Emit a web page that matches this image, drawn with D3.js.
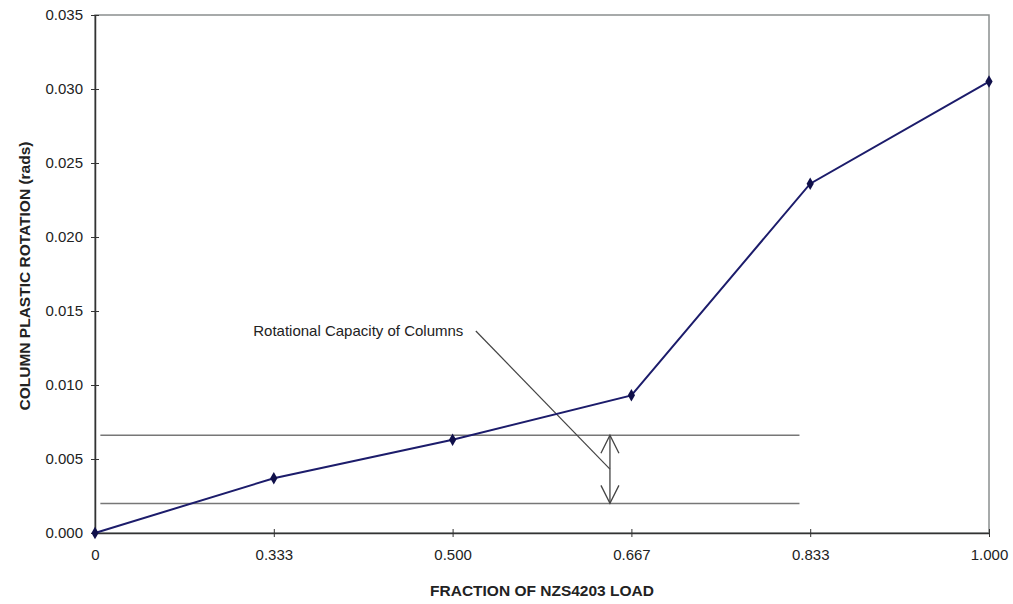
<!DOCTYPE html>
<html>
<head>
<meta charset="utf-8">
<script src="https://cdn.jsdelivr.net/npm/d3@7"></script>
<style>
  body { margin: 0; background: #fff; }
  text { font-family: "Liberation Sans", Arial, sans-serif; }
</style>
</head>
<body>
<div id="chart"></div>
<script>
// data
var categories = ["0", "0.333", "0.500", "0.667", "0.833", "1.000"];
var rotations = [0.0, 0.0037, 0.0063, 0.0093, 0.0236, 0.0305];
var yTicks = [0.000, 0.005, 0.010, 0.015, 0.020, 0.025, 0.030, 0.035];

// rotational capacity band (upper / lower limit), x given as category index
var capacityLimits = [0.0066, 0.0020];
var capacityExtent = [0.03, 3.94];
var arrowAt = 2.88;
var noteText = "Rotational Capacity of Columns";
var notePos = [0.885, 0.0133];
var leaderFrom = [2.13, 0.01365];
var leaderTo = [2.88, 0.00432];

var width = 1013, height = 604;
var margin = { top: 15, right: 24, bottom: 71, left: 95 };

var svg = d3.select("#chart")
    .append("svg")
    .attr("width", width)
    .attr("height", height);

var x = d3.scaleLinear()
    .domain([0, categories.length - 1])
    .range([margin.left, width - margin.right]);

var y = d3.scaleLinear()
    .domain([0, 0.035])
    .range([height - margin.bottom, margin.top]);

// plot area border (top / right)
svg.append("rect")
    .attr("x", x(0))
    .attr("y", y(0.035))
    .attr("width", x(categories.length - 1) - x(0))
    .attr("height", y(0) - y(0.035))
    .attr("fill", "none")
    .attr("stroke", "#8a8f8f")
    .attr("stroke-width", 1.5);

// y axis
var yAxis = svg.append("g")
    .attr("transform", "translate(" + x(0) + ",0)")
    .call(d3.axisLeft(y).tickValues(yTicks).tickFormat(d3.format(".3f")).tickSize(0).tickPadding(12));
yAxis.select(".domain").attr("stroke", "#333").attr("stroke-width", 1.5);
yAxis.selectAll(".tick line").remove();
yAxis.selectAll(".tick").append("line")
    .attr("x1", -4).attr("x2", 4)
    .attr("stroke", "#333");
yAxis.selectAll(".tick text")
    .style("font-size", "15px")
    .style("fill", "#222");

// x axis
var xAxis = svg.append("g")
    .attr("transform", "translate(0," + y(0) + ")")
    .call(d3.axisBottom(x).tickValues(d3.range(categories.length))
        .tickFormat(function(i) { return categories[i]; }).tickSize(0).tickPadding(16));
xAxis.select(".domain").attr("stroke", "#333").attr("stroke-width", 1.5);
xAxis.selectAll(".tick line").remove();
xAxis.selectAll(".tick").append("line")
    .attr("y1", -4).attr("y2", 4)
    .attr("stroke", "#333");
xAxis.selectAll(".tick text")
    .style("font-size", "15px")
    .style("fill", "#222");

// capacity lines
svg.selectAll(".cap")
    .data(capacityLimits)
    .enter()
    .append("line")
    .attr("class", "cap")
    .attr("x1", x(capacityExtent[0]))
    .attr("x2", x(capacityExtent[1]))
    .attr("y1", function(d) { return y(d); })
    .attr("y2", function(d) { return y(d); })
    .attr("stroke", "#777")
    .attr("stroke-width", 1.5);

// double headed arrow
var ax = x(arrowAt), aTop = y(capacityLimits[0]), aBot = y(capacityLimits[1]);
svg.append("line")
    .attr("x1", ax).attr("x2", ax)
    .attr("y1", aTop).attr("y2", aBot)
    .attr("stroke", "#444").attr("stroke-width", 1.3);
svg.append("path")
    .attr("d", "M" + (ax - 9) + "," + (aTop + 18) + "L" + ax + "," + aTop + "L" + (ax + 9) + "," + (aTop + 18))
    .attr("fill", "none").attr("stroke", "#444").attr("stroke-width", 1.3);
svg.append("path")
    .attr("d", "M" + (ax - 9) + "," + (aBot - 18) + "L" + ax + "," + aBot + "L" + (ax + 9) + "," + (aBot - 18))
    .attr("fill", "none").attr("stroke", "#444").attr("stroke-width", 1.3);

// leader line and note
svg.append("line")
    .attr("x1", x(leaderFrom[0])).attr("y1", y(leaderFrom[1]))
    .attr("x2", x(leaderTo[0])).attr("y2", y(leaderTo[1]))
    .attr("stroke", "#444").attr("stroke-width", 1.2);
svg.append("text")
    .attr("x", x(notePos[0]))
    .attr("y", y(notePos[1]))
    .style("font-size", "15px")
    .style("fill", "#222")
    .text(noteText);

// series line
var line = d3.line()
    .x(function(d, i) { return x(i); })
    .y(function(d) { return y(d); });

svg.append("path")
    .datum(rotations)
    .attr("d", line)
    .attr("fill", "none")
    .attr("stroke", "#1c1c6b")
    .attr("stroke-width", 2);

svg.selectAll(".pt")
    .data(rotations)
    .enter()
    .append("path")
    .attr("class", "pt")
    .attr("d", d3.symbol().type(d3.symbolDiamond).size(45))
    .attr("transform", function(d, i) { return "translate(" + x(i) + "," + y(d) + ")"; })
    .attr("fill", "#10104a");

// axis titles
svg.append("text")
    .attr("x", (x(0) + x(categories.length - 1)) / 2)
    .attr("y", 596)
    .attr("text-anchor", "middle")
    .style("font-size", "15.5px")
    .style("font-weight", "bold")
    .style("fill", "#222")
    .text("FRACTION OF NZS4203 LOAD");

svg.append("text")
    .attr("transform", "translate(30," + ((y(0) + y(0.035)) / 2 + 2) + ") rotate(-90)")
    .attr("text-anchor", "middle")
    .style("font-size", "15.5px")
    .style("font-weight", "bold")
    .style("fill", "#222")
    .text("COLUMN PLASTIC ROTATION (rads)");
</script>
</body>
</html>
